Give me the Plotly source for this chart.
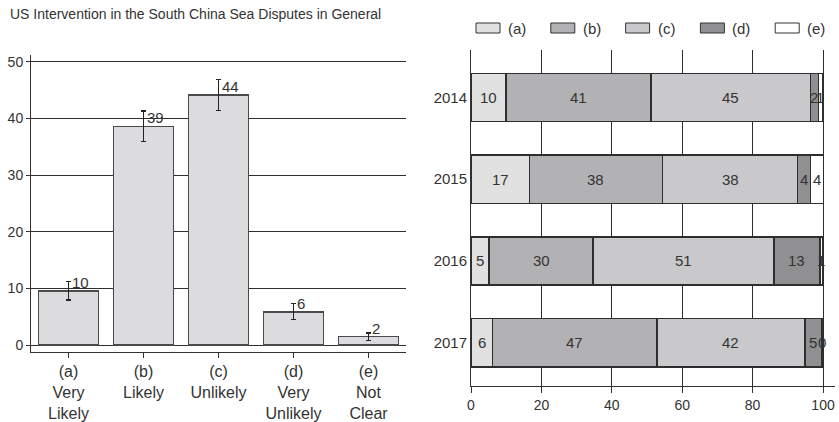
import plotly.graph_objects as go

# Overall survey result (percent) with uncertainty
categories = ["(a)<br>Very<br>Likely", "(b)<br>Likely", "(c)<br>Unlikely",
              "(d)<br>Very<br>Unlikely", "(e)<br>Not<br>Clear"]
overall = [9.6, 38.6, 44.1, 5.9, 1.5]
overall_err = [1.65, 2.7, 2.75, 1.4, 0.65]

# Year-by-year breakdown (percent)
years = ["2014", "2015", "2016", "2017"]
series_names = ["(a)", "(b)", "(c)", "(d)", "(e)"]
share_a = [9.9, 16.6, 5.1, 6.1]
share_b = [41.2, 37.8, 29.6, 46.7]
share_c = [45.3, 38.4, 51.3, 42.1]
share_d = [2.3, 3.7, 13.1, 4.6]
share_e = [1.1, 3.6, 0.9, 0.4]
shares = [share_a, share_b, share_c, share_d, share_e]
fills = ["#e1e1e2", "#b2b2b4", "#c9c9cb", "#909092", "#ffffff"]

title_text = "US Intervention in the South China Sea Disputes in General"

FONT = "Liberation Sans, Arial, sans-serif"
INK = "#333333"

fig = go.Figure()

# Left panel: overall bars with error bars
fig.add_trace(go.Bar(
    x=list(range(len(categories))), y=overall, width=0.8,
    marker=dict(color="#dcdcde", line=dict(color="#4a4a4a", width=1.5)),
    error_y=dict(type="data", array=overall_err, color="#222222",
                 thickness=1.3, width=2.5),
    xaxis="x", yaxis="y", showlegend=False, hoverinfo="skip",
))
for i, v in enumerate(overall):
    fig.add_annotation(x=i, y=v, xref="x", yref="y", text=f"{v:.0f}",
                       showarrow=False, xanchor="left", yanchor="bottom",
                       xshift=1, yshift=-2,
                       font=dict(family=FONT, size=15, color=INK))

# Right panel: stacked horizontal bars
for name, vals, col in zip(series_names, shares, fills):
    fig.add_trace(go.Bar(
        y=list(range(len(years))), x=vals, orientation="h", width=0.59,
        marker=dict(color=col, line=dict(color="#2e2e2e", width=1.5)),
        name=name, xaxis="x2", yaxis="y2", showlegend=False,
        hoverinfo="skip",
    ))

# Segment labels centred in each segment
for yi in range(len(years)):
    start = 0.0
    for vals in shares:
        v = vals[yi]
        fig.add_annotation(x=start + v / 2, y=yi, xref="x2", yref="y2",
                           text=f"{v:.0f}", showarrow=False,
                           font=dict(family=FONT, size=15, color=INK))
        start += v

# Legend built from rectangles and labels
leg_x0 = 476
leg_step = 74.8
for k, (name, col) in enumerate(zip(series_names, fills)):
    x0 = leg_x0 + k * leg_step
    fig.add_shape(type="rect", xref="paper", yref="paper",
                  x0=(x0 - 31) / 804, x1=(x0 + 24 - 31) / 804,
                  y0=(386 - 33) / 336, y1=(386 - 23) / 336,
                  fillcolor=col, line=dict(color="#333333", width=1))
    fig.add_annotation(x=(x0 + 30 - 31) / 804, y=(386 - 28) / 336,
                       xref="paper", yref="paper", text=name,
                       showarrow=False, xanchor="left", yanchor="middle",
                       font=dict(family=FONT, size=15, color=INK))

fig.add_annotation(x=(8 - 31) / 804, y=(386 - 14) / 336, xref="paper",
                   yref="paper", text=title_text, showarrow=False,
                   xanchor="left", yanchor="middle",
                   font=dict(family=FONT, size=14, color=INK))

fig.update_layout(
    width=839, height=422,
    margin=dict(l=31, r=4, t=50, b=36),
    paper_bgcolor="white", plot_bgcolor="white",
    barmode="stack",
    font=dict(family=FONT, size=14, color=INK),
    xaxis=dict(domain=[0, 375 / 804], range=[-0.5, 4.5],
               tickmode="array", tickvals=list(range(len(categories))),
               ticktext=categories, ticks="outside", ticklen=5,
               tickcolor="#333", showline=True, linecolor="#333",
               linewidth=1, showgrid=False, zeroline=False,
               tickfont=dict(size=16), automargin=False,
               anchor="y", fixedrange=True),
    yaxis=dict(domain=[34 / 336, 331 / 336], range=[-1.2, 51.2],
               tickvals=[0, 10, 20, 30, 40, 50], ticks="outside",
               ticklen=4, tickcolor="#333", showline=True,
               linecolor="#333", linewidth=1, showgrid=True,
               gridcolor="#2e2e2e", gridwidth=1, zeroline=False,
               automargin=False, anchor="x"),
    xaxis2=dict(domain=[440 / 804, 1], range=[0, 103.4],
                tickvals=[0, 20, 40, 60, 80, 100], ticks="outside",
                ticklen=6, tickcolor="#333", showline=True,
                linecolor="#333", linewidth=1, showgrid=True,
                gridcolor="#2e2e2e", gridwidth=1, zeroline=False,
                automargin=False, anchor="y2"),
    yaxis2=dict(domain=[0, 1], range=[3.53, -0.58],
                tickmode="array", tickvals=list(range(len(years))),
                ticktext=years, ticks="", showline=True,
                linecolor="#333", linewidth=1, showgrid=False,
                zeroline=False, anchor="x2", automargin=False,
                tickfont=dict(size=15)),
)

fig.write_html("out.html")
